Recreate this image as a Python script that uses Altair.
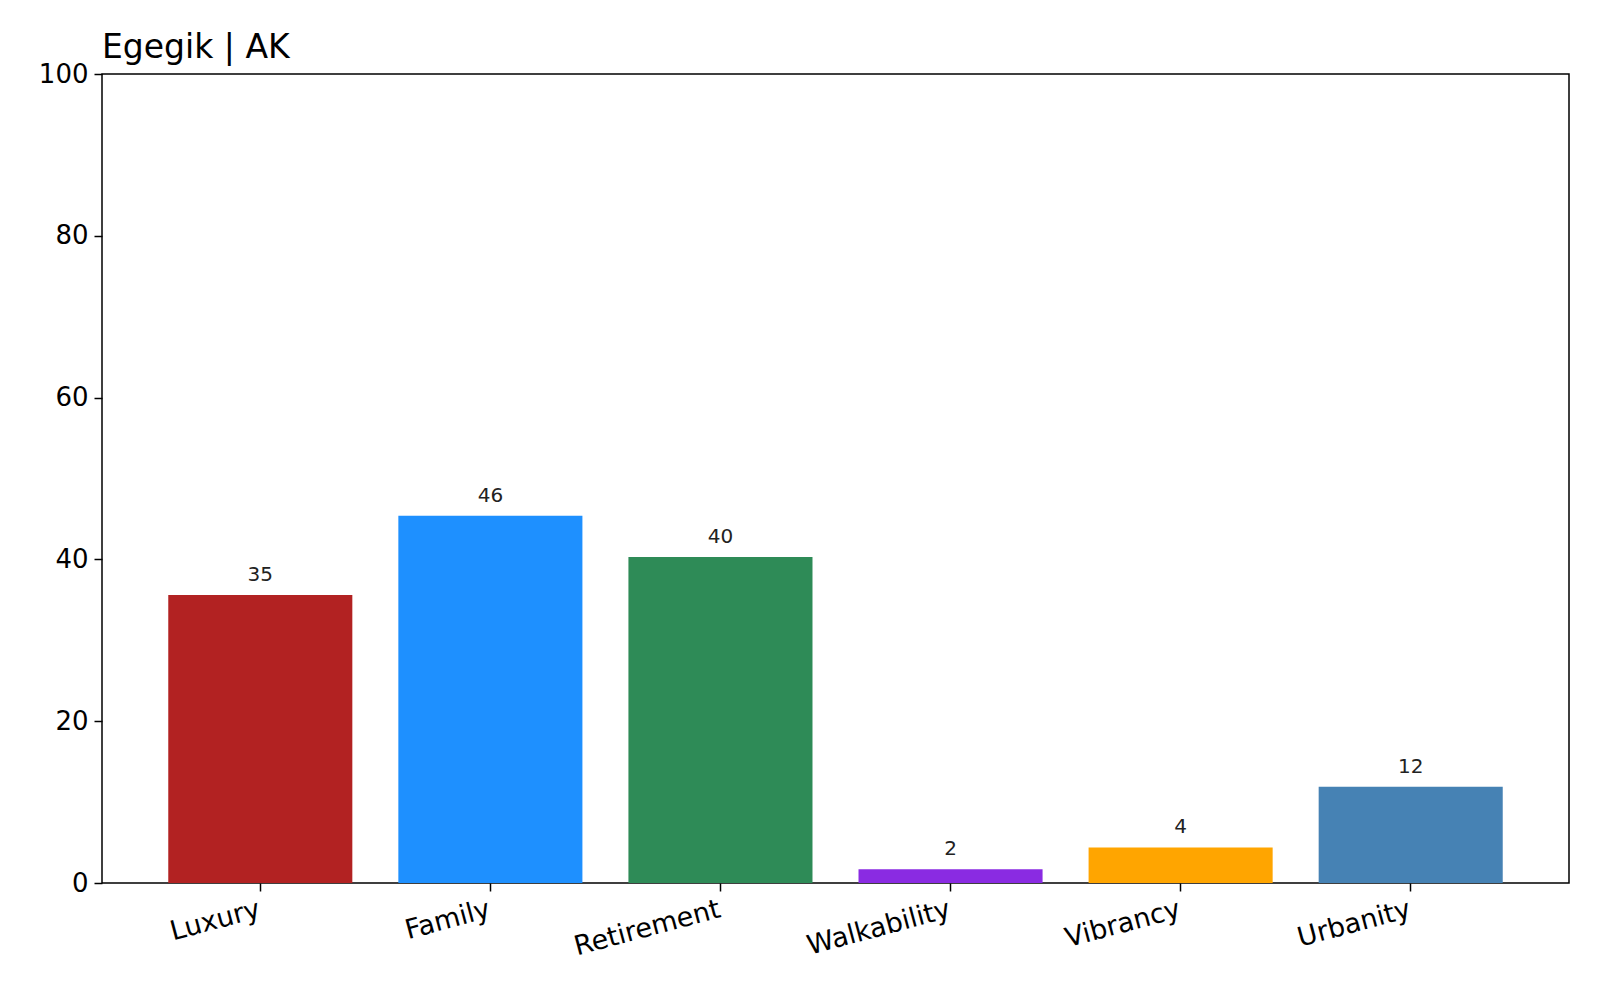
import altair as alt
import pandas as pd

categories = ["Luxury", "Family", "Retirement", "Walkability", "Vibrancy", "Urbanity"]
values = [35.6, 45.4, 40.3, 1.7, 4.4, 11.9]
labels = ["35", "46", "40", "2", "4", "12"]
colors = ["#B22222", "#1E90FF", "#2E8B57", "#8A2BE2", "#FFA500", "#4682B4"]

df = pd.DataFrame({"cat": categories, "val": values, "lab": labels})

font = "DejaVu Sans"

x = alt.X("cat:N", sort=categories, title=None,
          scale=alt.Scale(paddingInner=0.2, paddingOuter=0.288),
          axis=alt.Axis(labelAngle=-15, labelAlign="right", labelBaseline="top",
                        labelFontSize=27, labelColor="#000", labelFont=font,
                        tickColor="#000", tickSize=8, tickWidth=1.5,
                        domain=False, labelPadding=5, labelOffset=-4))
y = alt.Y("val:Q", title=None,
          scale=alt.Scale(domain=[0, 100], nice=False),
          axis=alt.Axis(values=[0, 20, 40, 60, 80, 100], grid=False,
                        labelFontSize=26, labelColor="#000", labelFont=font,
                        tickColor="#000", tickSize=8, tickWidth=1.5,
                        domain=False, labelPadding=6))

bars = alt.Chart(df).mark_bar().encode(
    x=x, y=y,
    color=alt.Color("cat:N", sort=categories,
                    scale=alt.Scale(domain=categories, range=colors), legend=None),
)
text = alt.Chart(df).mark_text(dy=-10, baseline="bottom", fontSize=20, font=font, color="#222").encode(
    x=alt.X("cat:N", sort=categories), y="val:Q", text="lab:N"
)

chart = (bars + text).properties(
    width=1467, height=809,
    title=alt.TitleParams("Egegik | AK", anchor="start", frame="group", fontSize=33, font=font,
                          fontWeight="normal", color="#000", offset=-4),
    autosize=alt.AutoSizeParams(type="none"),
    padding={"left": 94, "top": 66, "right": 10, "bottom": 80},
).configure(background="white").configure_view(stroke="#000", strokeWidth=1.5)

chart.save("out.html", embed_options={"renderer": "svg", "actions": False})
